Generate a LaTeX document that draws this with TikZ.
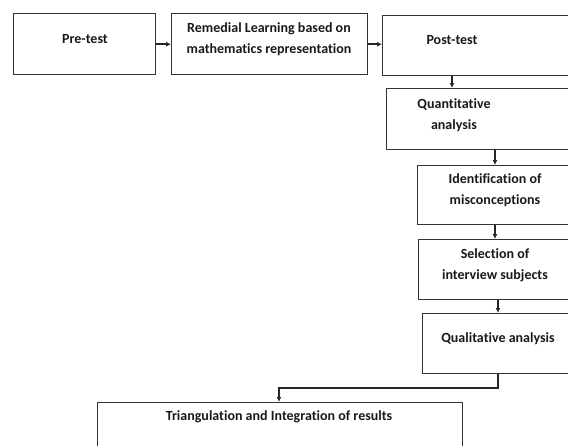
\documentclass[tikz,border=0pt]{standalone}
\usepackage{fontspec}
\setmainfont{Carlito}[Ligatures=NoCommon]
\usetikzlibrary{arrows.meta,calc}
\begin{document}
\begin{tikzpicture}[x=1pt,y=-1pt,
  box/.style={draw=black!80,line width=1.4pt,rectangle,anchor=north west,inner sep=0pt},
  txt/.style={font=\bfseries\fontsize{14}{21}\selectfont,align=center,text=black!90,inner sep=0pt},
  arr/.style={draw=black!85,line width=1.6pt,-{Latex[length=5pt,width=5pt]}}]
\path[use as bounding box] (0,0) rectangle (568,445);
\clip (0,0) rectangle (568,445);
\node[box,minimum width=142pt,minimum height=61pt] (pre) at (13,13) {};
\node[box,minimum width=196pt,minimum height=61pt] (rem) at (171,13) {};
\node[box,minimum width=200pt,minimum height=60pt] (post) at (382,15) {};
\node[box,minimum width=200pt,minimum height=61pt] (quant) at (386,88) {};
\node[box,minimum width=200pt,minimum height=59pt] (ident) at (417,165) {};
\node[box,minimum width=200pt,minimum height=60pt] (sel) at (418,239) {};
\node[box,minimum width=200pt,minimum height=60pt] (qual) at (422,313) {};
\node[box,minimum width=365pt,minimum height=60pt] (tri) at (97,402) {};
\node[txt] (tpre) at (85,39) {Pre-test};
\node[txt] (trem) at (269,39) {Remedial Learning based on\\mathematics representation};
\node[txt] (tpost) at (452,40) {Post-test};
\node[txt] (tquant) at (454,115) {Quantitative\\analysis};
\node[txt] (tident) at (495,190) {Identification of\\misconceptions};
\node[txt] (tsel) at (495,265) {Selection of\\interview subjects};
\node[txt] (tqual) at (498,339) {Qualitative analysis};
\node[txt] (ttri) at (279,417) {Triangulation and Integration of results};
\draw[arr] (pre.east) -- (rem.west);
\draw[arr] (rem.east) -- (rem.east -| post.west);
\draw[arr] (tpost |- post.south) -- (tpost |- quant.north);
\draw[arr] (tident |- quant.south) -- (tident |- ident.north);
\draw[arr] (tsel |- ident.south) -- (tsel |- sel.north);
\draw[arr] (tqual |- sel.south) -- (tqual |- qual.north);
\coordinate (elbow) at (279,388);
\draw[arr] (tqual |- qual.south) |- (elbow) -- (elbow |- tri.north);
\end{tikzpicture}
\end{document}
